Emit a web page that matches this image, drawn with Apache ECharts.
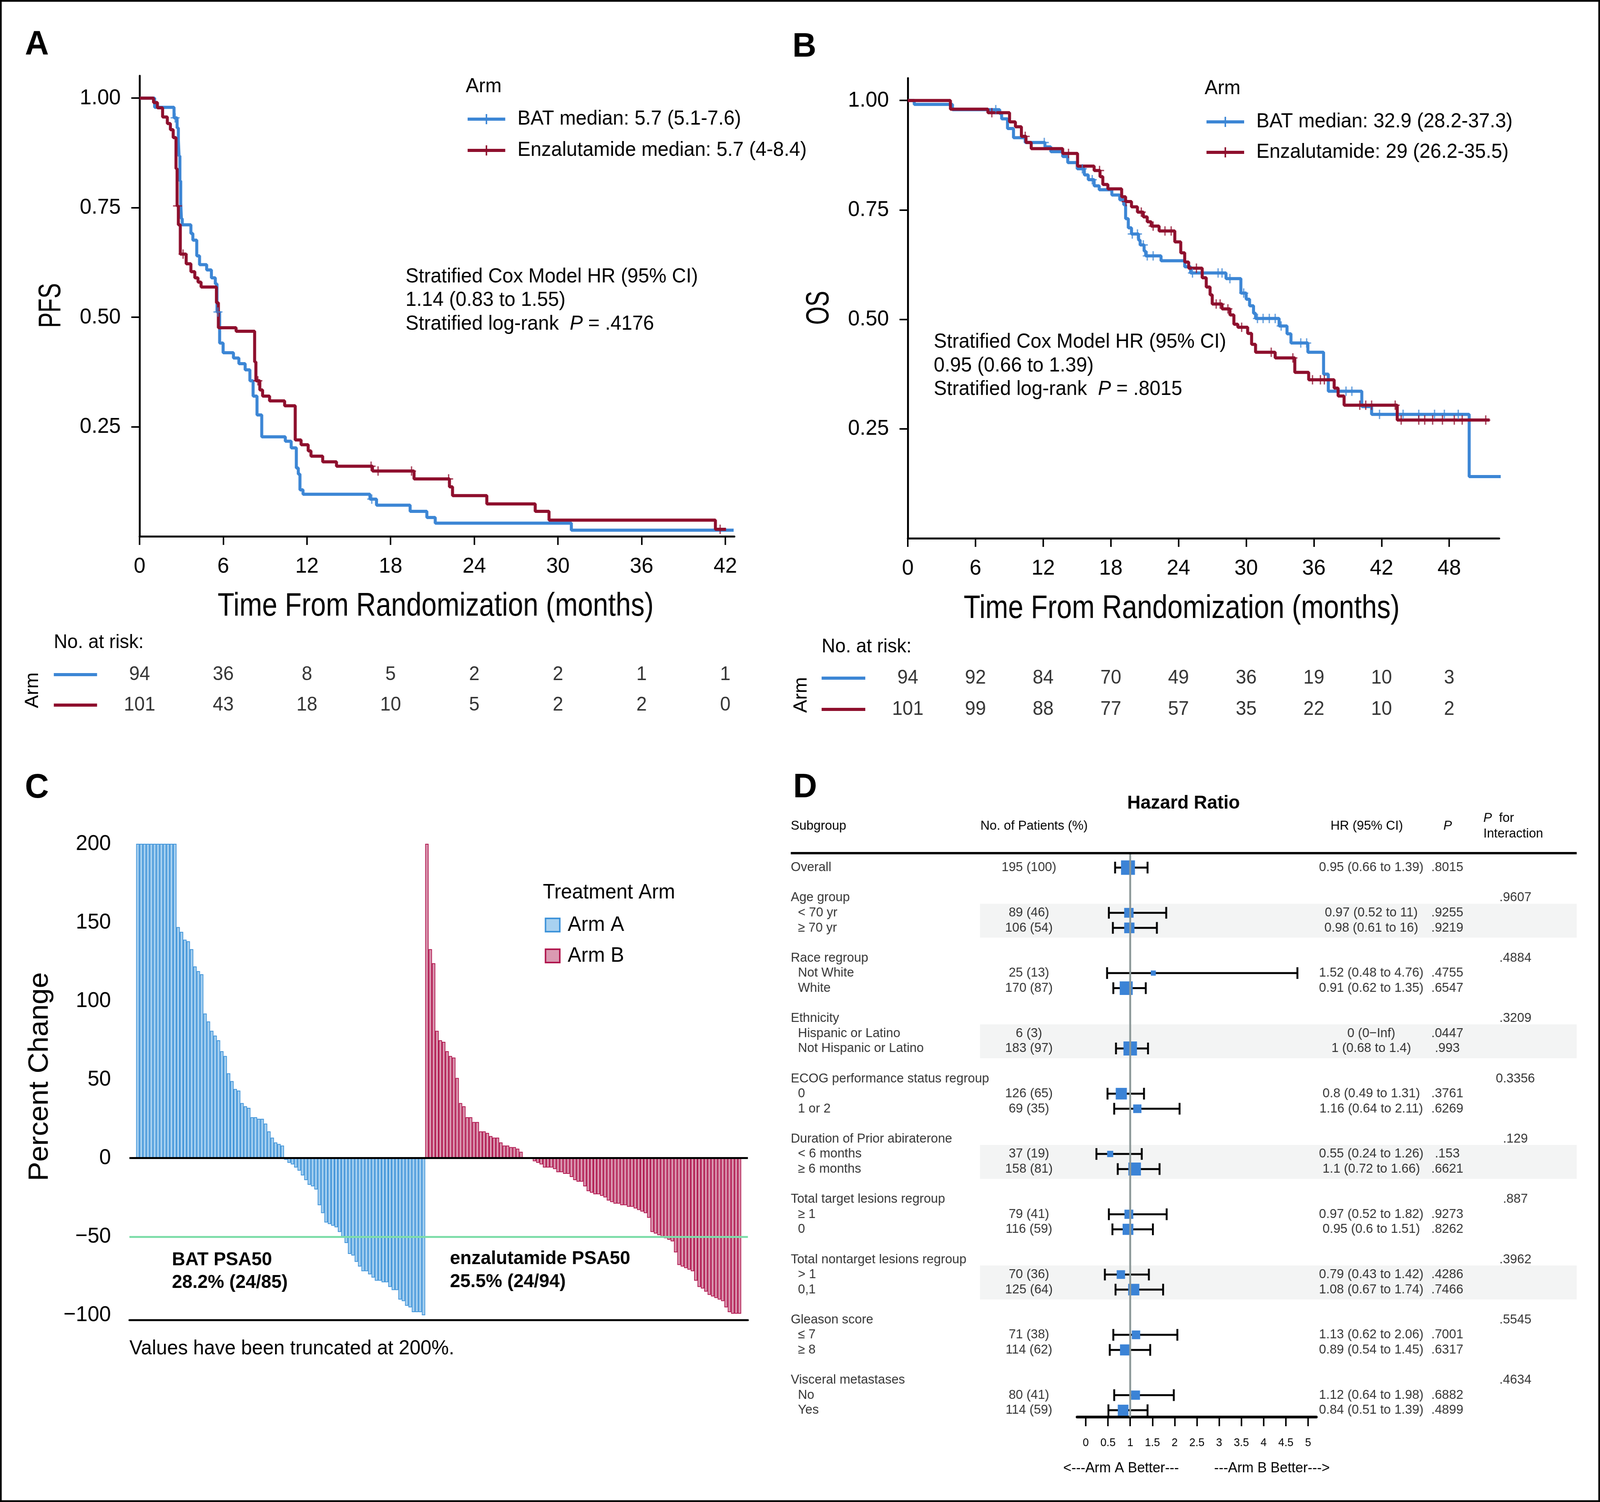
<!DOCTYPE html>
<html><head><meta charset="utf-8">
<script src="https://cdn.jsdelivr.net/npm/echarts@6/dist/echarts.min.js"></script>
<style>html,body{margin:0;padding:0;background:#fff;overflow:hidden}#c{width:4253px;height:3845px;transform-origin:0 0}</style>
</head><body><div id="c"></div><script>
// ---------------- DATA ----------------
const pfsTicks=[0,6,12,18,24,30,36,42];
const osTicks=[0,6,12,18,24,30,36,42,48];
const survTicks=[0.25,0.5,0.75,1.0];
const pfsRiskBAT=[94,36,8,5,2,2,1,1];
const pfsRiskEnz=[101,43,18,10,5,2,2,0];
const osRiskBAT=[94,92,84,70,49,36,19,10,3];
const osRiskEnz=[101,99,88,77,57,35,22,10,2];
const nameBATpfs='BAT median: 5.7 (5.1-7.6)';
const nameEnzpfs='Enzalutamide median: 5.7 (4-8.4)';
const nameBATos='BAT median: 32.9 (28.2-37.3)';
const nameEnzos='Enzalutamide: 29 (26.2-35.5)';
const pfsBAT=[[0,1],[1.08,0.979],[2.47,0.955],[2.69,0.932],[2.78,0.903],[2.83,0.868],[2.89,0.811],[2.95,0.761],[3.0,0.725],[3.06,0.711],[3.68,0.691],[3.82,0.676],[4.10,0.640],[4.30,0.620],[4.81,0.608],[5.15,0.590],[5.43,0.576],[5.55,0.512],[5.74,0.441],[5.99,0.419],[6.73,0.407],[7.12,0.394],[7.57,0.380],[7.91,0.355],[8.14,0.320],[8.42,0.277],[8.76,0.227],[10.45,0.217],[10.87,0.202],[11.24,0.156],[11.38,0.142],[11.50,0.106],[11.72,0.096],[16.52,0.085],[16.99,0.071],[19.4,0.057],[20.6,0.043],[21.2,0.030],[30.96,0.014],[42.6,0.014]];
const pfsBATcens=[2.55,5.62,16.65];
const pfsEnz=[[0,1],[1.0,0.990],[1.28,0.978],[1.65,0.957],[1.99,0.942],[2.21,0.928],[2.41,0.910],[2.61,0.839],[2.69,0.754],[2.78,0.711],[2.92,0.644],[3.34,0.622],[3.68,0.604],[3.96,0.590],[4.19,0.580],[4.41,0.569],[5.51,0.533],[5.65,0.476],[6.92,0.468],[8.25,0.398],[8.34,0.355],[8.62,0.334],[8.82,0.320],[9.32,0.309],[10.40,0.298],[11.16,0.220],[11.58,0.209],[12.09,0.195],[12.29,0.183],[13.13,0.170],[14.12,0.160],[16.7,0.149],[19.68,0.131],[22.22,0.113],[22.44,0.093],[24.9,0.074],[28.37,0.057],[29.36,0.037],[41.29,0.016],[42.05,0.016]];
const pfsEnzcens=[2.72,3.12,8.48,16.6,17.1,19.5,22.16,41.63];
const osBAT=[[0,1],[0.57,0.991],[3.96,0.979],[8.15,0.970],[8.32,0.958],[8.84,0.936],[9.37,0.915],[10.41,0.904],[12.16,0.894],[12.68,0.883],[13.73,0.872],[14.18,0.858],[15.02,0.844],[15.65,0.830],[16.0,0.819],[16.52,0.805],[16.97,0.796],[18.09,0.784],[18.79,0.773],[19.14,0.762],[19.31,0.730],[19.55,0.709],[19.83,0.695],[20.46,0.681],[20.60,0.670],[20.95,0.656],[21.09,0.645],[22.45,0.634],[24.55,0.620],[25.07,0.606],[28.21,0.593],[29.53,0.560],[30.0,0.546],[30.3,0.531],[30.65,0.514],[30.83,0.502],[32.92,0.485],[33.62,0.467],[33.97,0.446],[35.47,0.425],[36.86,0.375],[37.28,0.336],[40.25,0.301],[41.12,0.283],[49.77,0.141],[52.98,0.141]];
const osBATcens=[7.8,12.1,15.47,16.35,19.9,20.36,20.88,21.23,21.75,25.24,27.51,27.86,28.56,29.78,31.0,31.5,32.05,32.57,33.1,34.84,35.36,38.85,39.37,41.82,43.91,45.3,46.7,47.57,48.8,52.98];
const osEnz=[[0,1],[3.78,0.980],[7.1,0.972],[9.02,0.951],[9.54,0.940],[10.07,0.918],[10.48,0.904],[10.94,0.890],[13.73,0.879],[15.05,0.850],[16.52,0.840],[17.04,0.826],[17.29,0.808],[17.74,0.798],[18.96,0.780],[19.31,0.769],[19.83,0.757],[20.36,0.745],[20.88,0.734],[21.23,0.723],[21.58,0.713],[22.28,0.702],[23.67,0.677],[24.2,0.652],[24.55,0.631],[24.9,0.617],[26.1,0.595],[26.46,0.574],[26.8,0.556],[26.99,0.535],[27.86,0.524],[28.56,0.510],[28.91,0.489],[29.26,0.482],[30.13,0.468],[30.48,0.443],[30.83,0.425],[32.57,0.412],[34.31,0.379],[35.54,0.362],[37.8,0.343],[38.15,0.325],[38.68,0.304],[43.39,0.270],[51.58,0.270]];
const osEnzcens=[7.45,10.41,14.25,17.0,19.35,20.7,21.75,22.8,23.35,25.59,27.34,27.69,28.38,29.6,32.22,34.14,35.88,36.58,36.93,40.07,40.6,41.12,43.21,43.74,45.3,45.83,46.53,47.4,48.45,49.15,51.24];
const psaTicks=[-100,-50,0,50,100,150,200];
const armA=[200,200,200,200,200,200,200,200,200,200,200,200,147,144,139,138,133,122,119,117,92,87,81,78,75,68,65,54,49,44,43,35,33,32,26,26,25,25,22,17,13,10,9,8,-1,-3,-4,-6,-8,-11,-14,-17,-18,-20,-30,-35,-41,-42,-43,-44,-47,-50,-54,-61,-62,-66,-69,-72,-72,-74,-76,-78,-78,-79,-79,-82,-84,-84,-90,-91,-94,-95,-98,-98,-98,-100];
const armB=[200,133,124,81,75,74,68,65,64,51,35,33,26,26,23,23,17,17,16,14,13,13,10,8,8,7,7,6,4,0,0,0,-2,-3,-4,-6,-6,-6,-7,-9,-9,-10,-10,-12,-14,-15,-15,-18,-21,-22,-23,-23,-24,-25,-27,-28,-29,-29,-30,-30,-31,-31,-32,-33,-34,-35,-38,-47,-48,-49,-50,-51,-52,-53,-60,-68,-69,-70,-71,-72,-78,-82,-83,-85,-87,-88,-89,-90,-91,-95,-98,-99,-99,-99];
const hrTicks=[0,0.5,1,1.5,2,2.5,3,3.5,4,4.5,5];
const overall={label:'Overall',n:195,pct:100,hr:0.95,lo:0.66,hi:1.39,text:'0.95 (0.66 to 1.39)',p:'.8015'};
const groupNames=['Age group','Race regroup','Ethnicity','ECOG performance status regroup','Duration of Prior abiraterone','Total target lesions regroup','Total nontarget lesions regroup','Gleason score','Visceral metastases'];
const groupPInt=['.9607','.4884','.3209','0.3356','.129','.887','.3962','.5545','.4634'];
const itemLabels=[['< 70 yr','≥ 70 yr'],['Not White','White'],['Hispanic or Latino','Not Hispanic or Latino'],['0','1 or 2'],['< 6 months','≥ 6 months'],['≥ 1','0'],['> 1','0,1'],['≤ 7','≥ 8'],['No','Yes']];
const itemN=[[89,106],[25,170],[6,183],[126,69],[37,158],[79,116],[70,125],[71,114],[80,114]];
const itemPct=[[46,54],[13,87],[3,97],[65,35],[19,81],[41,59],[36,64],[38,62],[41,59]];
const itemHR=[[0.97,0.98],[1.52,0.91],[null,1],[0.8,1.16],[0.55,1.1],[0.97,0.95],[0.79,1.08],[1.13,0.89],[1.12,0.84]];
const itemLo=[[0.52,0.61],[0.48,0.62],[null,0.68],[0.49,0.64],[0.24,0.72],[0.52,0.6],[0.43,0.67],[0.62,0.54],[0.64,0.51]];
const itemHi=[[1.81,1.6],[4.76,1.35],[null,1.4],[1.31,2.11],[1.26,1.66],[1.82,1.51],[1.42,1.74],[2.06,1.45],[1.98,1.39]];
const itemHRText=[['0.97 (0.52 to 11)','0.98 (0.61 to 16)'],['1.52 (0.48 to 4.76)','0.91 (0.62 to 1.35)'],['0 (0\u2212Inf)','1 (0.68 to 1.4)'],['0.8 (0.49 to 1.31)','1.16 (0.64 to 2.11)'],['0.55 (0.24 to 1.26)','1.1 (0.72 to 1.66)'],['0.97 (0.52 to 1.82)','0.95 (0.6 to 1.51)'],['0.79 (0.43 to 1.42)','1.08 (0.67 to 1.74)'],['1.13 (0.62 to 2.06)','0.89 (0.54 to 1.45)'],['1.12 (0.64 to 1.98)','0.84 (0.51 to 1.39)']];
const itemP=[['.9255','.9219'],['.4755','.6547'],['.0447','.993'],['.3761','.6269'],['.153','.6621'],['.9273','.8262'],['.4286','.7466'],['.7001','.6317'],['.6882','.4899']];
const shadedGroups=[0,2,4,6];

// ---------------- STYLE / BUILD ----------------
const W=4253,H=3845;
const dom=document.getElementById('c');
const vw=window.innerWidth, vh=window.innerHeight;
if(vw>0&&vh>0&&(vw!==W||vh!==H)){dom.style.transform='scale('+(vw/W)+','+(vh/H)+')';}
const F="'Liberation Sans', Arial, Helvetica, sans-serif";
const BLUE='#3C86D5', RED='#8E0F2D';
const cross='path://M-1,-0.14L1,-0.14L1,0.14L-1,0.14ZM-0.14,-1L0.14,-1L0.14,1L-0.14,1Z';
const legIcon='path://M0,9L100,9L100,17L0,17ZM48,0L52,0L52,26L48,26Z';
function stepAt(c,t){let v=c[0][1];for(const p of c){if(p[0]<=t)v=p[1];else break;}return v;}

const chart=echarts.init(dom);
const axBlack={lineStyle:{color:'#000',width:5}};
function kmX(gi,max,ticks){return {type:'value',gridIndex:gi,min:0,max:max,axisLine:Object.assign({onZero:false},axBlack),
  axisTick:{length:22,lineStyle:{color:'#000',width:4},customValues:ticks},
  axisLabel:{customValues:ticks,fontSize:56,color:'#000',fontFamily:F,margin:50},splitLine:{show:false}};}
function kmY(gi){return {type:'value',gridIndex:gi,min:0,max:1.051,axisLine:Object.assign({onZero:false},axBlack),
  axisTick:{length:22,lineStyle:{color:'#000',width:4},customValues:survTicks},
  axisLabel:{customValues:survTicks,fontSize:56,color:'#000',fontFamily:F,margin:50,formatter:v=>v.toFixed(2)},splitLine:{show:false}};}
function hidX(gi,min,max){return {type:'value',gridIndex:gi,min:min,max:max,show:false,splitLine:{show:false}};}

const grids=[
 {left:371,top:194,width:1581,height:1179},   //0 PFS
 {left:371,top:1688,width:1581,height:156},   //1 PFS risk
 {left:2413,top:200,width:1572,height:1178},  //2 OS
 {left:2413,top:1696,width:1572,height:160},  //3 OS risk
 {left:344,top:2138,width:1644,height:1241},  //4 waterfall
 {left:2863,top:2028,width:636,height:1599},  //5 forest
 {left:2080,top:2028,width:2140,height:1599}  //6 forest table
];
const nCat=2+armA.length+armB.length+2;
const cats=Array.from({length:nCat},(_,i)=>String(i));
const sA=cats.map((_,i)=>(i>=2&&i<2+armA.length)?armA[i-2]:null);
const sB0=2+armA.length;
const sB=cats.map((_,i)=>(i>=sB0&&i<sB0+armB.length)?armB[i-sB0]:null);

const xAxes=[
 kmX(0,42.65,pfsTicks), hidX(1,0,42.65), kmX(2,52.43,osTicks), hidX(3,0,52.43),
 {type:'category',gridIndex:4,data:cats,boundaryGap:true,axisLine:Object.assign({onZero:false},axBlack),axisTick:{show:false},axisLabel:{show:false}},
 {type:'value',gridIndex:5,min:-0.1946,max:5.186,axisLine:{onZero:false,lineStyle:{color:'#000',width:7}},
   axisTick:{length:24,lineStyle:{color:'#000',width:4},customValues:hrTicks},
   axisLabel:{customValues:hrTicks,fontSize:29,color:'#000',fontFamily:F,margin:52,formatter:v=>String(v)},splitLine:{show:false}},
 hidX(6,0,2140)
];
const yAxes=[
 kmY(0), {type:'category',gridIndex:1,data:['b','e'],inverse:true,show:false},
 kmY(2), {type:'category',gridIndex:3,data:['b','e'],inverse:true,show:false},
 {type:'value',gridIndex:4,min:-103,max:205.5,axisLine:Object.assign({onZero:false},axBlack),
   axisTick:{length:22,lineStyle:{color:'#000',width:4},customValues:psaTicks},
   axisLabel:{customValues:psaTicks,fontSize:56,color:'#000',fontFamily:F,margin:49,formatter:v=>v<0?'\u2212'+Math.abs(v):String(v)},splitLine:{show:false}},
 {type:'value',gridIndex:5,min:-5,max:36.44,inverse:true,show:false,splitLine:{show:false}},
 {type:'value',gridIndex:6,min:-5,max:36.44,inverse:true,show:false,splitLine:{show:false}}
];

const series=[];
function km(xi,curve,cens,name,color){
  series.push({type:'line',name:name,xAxisIndex:xi,yAxisIndex:xi,data:curve,step:'end',symbol:'none',color:color,lineStyle:{color:color,width:8},z:3,silent:true});
  series.push({type:'scatter',name:name,xAxisIndex:xi,yAxisIndex:xi,data:cens.map(t=>[t,stepAt(curve,t)]),symbol:cross,symbolSize:24,color:color,itemStyle:{color:color},z:4,silent:true});
}
km(0,pfsBAT,pfsBATcens,nameBATpfs,BLUE);
km(0,pfsEnz,pfsEnzcens,nameEnzpfs,RED);
km(2,osBAT,osBATcens,nameBATos,BLUE);
km(2,osEnz,osEnzcens,nameEnzos,RED);
function risk(xi,ticks,vals,cat){
  series.push({type:'scatter',xAxisIndex:xi,yAxisIndex:xi,symbolSize:0,silent:true,data:ticks.map((t,i)=>[t,cat,vals[i]]),
   label:{show:true,position:'inside',formatter:p=>String(p.data[2]),fontSize:50,color:'#000',fontFamily:F}});
}
risk(1,pfsTicks,pfsRiskBAT,'b'); risk(1,pfsTicks,pfsRiskEnz,'e');
risk(3,osTicks,osRiskBAT,'b'); risk(3,osTicks,osRiskEnz,'e');

series.push({type:'bar',name:'Arm A',xAxisIndex:4,yAxisIndex:4,data:sA,barWidth:'100%',barGap:'-100%',color:'#A8D1F0',
  itemStyle:{color:'#A8D1F0',borderColor:'#3E93D9',borderWidth:2},silent:true,z:2});
series.push({type:'bar',name:'Arm B',xAxisIndex:4,yAxisIndex:4,data:sB,barWidth:'100%',barGap:'-100%',color:'#DA9AB2',
  itemStyle:{color:'#DA9AB2',borderColor:'#B0164E',borderWidth:2},silent:true,z:2,
  markLine:{silent:true,symbol:'none',label:{show:false},data:[
    {yAxis:0,lineStyle:{color:'#000',width:5,type:'solid'}},
    {yAxis:-50,lineStyle:{color:'#7EDDA9',width:5,type:'solid'}}]}});

// forest
const lblD=[[22,0,overall.label]], nD=[[655,0,overall.n+' ('+overall.pct+')']], hrD=[[1565,0,overall.text]], pD=[[1767,0,overall.p]], piD=[];
const whisk=[[0,overall.lo,overall.hi]], boxes=[[overall.hr,0,overall.n]], bands=[];
groupNames.forEach((g,gi)=>{
  const hr=2+4*gi;
  lblD.push([22,hr,g]); piD.push([1948,hr,groupPInt[gi]]);
  if(shadedGroups.includes(gi)) bands.push([{xAxis:525,yAxis:hr+0.4},{xAxis:2111,yAxis:hr+2.65}]);
  for(let k=0;k<2;k++){
    const r=hr+1+k;
    lblD.push([41,r,itemLabels[gi][k]]);
    nD.push([655,r,itemN[gi][k]+' ('+itemPct[gi][k]+')']);
    hrD.push([1565,r,itemHRText[gi][k]]);
    pD.push([1767,r,itemP[gi][k]]);
    if(itemHR[gi][k]!==null){whisk.push([r,itemLo[gi][k],itemHi[gi][k]]);boxes.push([itemHR[gi][k],r,itemN[gi][k]]);}
  }
});
function txtSeries(data,pos,extra){
  series.push(Object.assign({type:'scatter',xAxisIndex:6,yAxisIndex:6,symbolSize:0,silent:true,data:data,z:2,
   label:{show:true,position:pos,distance:0,formatter:p=>p.data[2],fontSize:34,color:'#000',fontFamily:F}},extra||{}));
}
txtSeries(lblD,'right',{z:1,markArea:{silent:true,itemStyle:{color:'#F3F4F4'},data:bands}});
txtSeries(nD,'inside'); txtSeries(hrD,'inside'); txtSeries(pD,'inside'); txtSeries(piD,'inside');
series.push({type:'custom',xAxisIndex:5,yAxisIndex:5,data:whisk,silent:true,z:3,encode:{x:[1,2],y:0},
  renderItem:(params,api)=>{const r=api.value(0),a=api.coord([api.value(1),r]),b=api.coord([api.value(2),r]),h=15;
   const st={stroke:'#000',lineWidth:5};
   return {type:'group',children:[
     {type:'line',shape:{x1:a[0],y1:a[1],x2:b[0],y2:b[1]},style:st},
     {type:'line',shape:{x1:a[0],y1:a[1]-h,x2:a[0],y2:a[1]+h},style:st},
     {type:'line',shape:{x1:b[0],y1:b[1]-h,x2:b[0],y2:b[1]+h},style:st}]};}});
series.push({type:'scatter',xAxisIndex:5,yAxisIndex:5,data:boxes,symbol:'rect',symbolSize:v=>Math.min(37,2.65*Math.sqrt(v[2])),
  itemStyle:{color:'#3B83D6',opacity:1},silent:true,z:4});
series.push({type:'line',xAxisIndex:5,yAxisIndex:5,data:[[1,-0.92],[1,36.44]],symbol:'none',lineStyle:{color:'#8C9898',width:5},silent:true,z:5});

// ---------------- GRAPHIC TEXT ----------------
function T(x,y,text,o){o=o||{};return {type:'text',x:x,y:y,rotation:o.rot||0,scaleX:o.sx||1,silent:true,z:10,style:{text:text,fontSize:o.fs||52,fontFamily:F,
  fontWeight:o.fw||'normal',fill:'#000',align:o.al||'left',verticalAlign:'middle',rich:{i:{fontStyle:'italic',fontSize:o.fs||52,fontFamily:F}}}};}
function L(x1,y1,x2,y2,c,w){return {type:'line',silent:true,z:10,shape:{x1,y1,x2,y2},style:{stroke:c,lineWidth:w}};}
const gr=[
 {type:'rect',silent:true,z:0,shape:{x:2,y:2,width:4249,height:3841},style:{fill:'none',stroke:'#000',lineWidth:5}},
 T(98,115,'A',{fs:88,fw:'bold',al:'center'}), T(2138,121,'B',{fs:88,fw:'bold',al:'center'}),
 T(98,2018,'C',{fs:88,fw:'bold',al:'center'}), T(2140,2017,'D',{fs:88,fw:'bold',al:'center'}),
 T(1238,222,'Arm'), T(3202,227,'Arm'),
 T(1078,709,'Stratified Cox Model HR (95% CI)'), T(1078,769,'1.14 (0.83 to 1.55)'), T(1078,830,'Stratified log-rank  {i|P} = .4176'),
 T(2482,876,'Stratified Cox Model HR (95% CI)'), T(2482,937,'0.95 (0.66 to 1.39)'), T(2482,997,'Stratified log-rank  {i|P} = .8015'),
 T(1158,1553,'Time From Randomization (months)',{fs:84,sx:0.864,al:'center'}),
 T(3141,1559,'Time From Randomization (months)',{fs:84,sx:0.864,al:'center'}),
 T(137,782,'PFS',{fs:84,sx:0.70,al:'center',rot:Math.PI/2}), T(2178,788,'OS',{fs:86,sx:0.70,al:'center',rot:Math.PI/2}),
 T(143,1645,'No. at risk:',{fs:50}), L(143,1727,258,1727,BLUE,8), L(143,1805,258,1805,RED,8), T(87,1767,'Arm',{fs:50,al:'center',rot:Math.PI/2}),
 T(2184,1656,'No. at risk:',{fs:50}), L(2184,1736,2300,1736,BLUE,8), L(2184,1816,2300,1816,RED,8), T(2130,1779,'Arm',{fs:50,al:'center',rot:Math.PI/2}),
 T(107,2756,'Percent Change',{fs:74,al:'center',rot:Math.PI/2}),
 T(1443,2285,'Treatment Arm',{fs:53}),
 T(457,3225,'BAT PSA50',{fs:49,fw:'bold'}), T(457,3283,'28.2% (24/85)',{fs:49,fw:'bold'}),
 T(1196,3222,'enzalutamide PSA50',{fs:49,fw:'bold'}), T(1196,3281,'25.5% (24/94)',{fs:49,fw:'bold'}),
 T(344,3453,'Values have been truncated at 200%.',{fs:52}),
 T(3146,2056,'Hazard Ratio',{fs:49,fw:'bold',al:'center'}),
 T(2102,2115,'Subgroup',{fs:34}), T(2606,2115,'No. of Patients (%)',{fs:34}), T(3633,2115,'HR (95% CI)',{fs:34,al:'center'}),
 T(3848,2115,'{i|P}',{fs:34,al:'center'}), T(3943,2095,'{i|P}  for',{fs:34}), T(3943,2135,'Interaction',{fs:34}),
 L(2102,2184,4191,2184,'#000',6),
 T(2980,3759,'<---Arm A Better---',{fs:37,al:'center'}), T(3381,3759,'---Arm B Better--->',{fs:37,al:'center'})
];

chart.setOption({
 animation:false, backgroundColor:'#fff',
 grid:grids, xAxis:xAxes, yAxis:yAxes, series:series, graphic:gr,
 legend:[
  {left:1238,top:274,orient:'vertical',itemWidth:117,itemHeight:26,itemGap:28,selectedMode:false,
   data:[{name:nameBATpfs,icon:legIcon},{name:nameEnzpfs,icon:legIcon}],textStyle:{fontSize:52,fontFamily:F,color:'#000',padding:[0,0,0,19]}},
  {left:3202,top:281,orient:'vertical',itemWidth:117,itemHeight:26,itemGap:26,selectedMode:false,
   data:[{name:nameBATos,icon:legIcon},{name:nameEnzos,icon:legIcon}],textStyle:{fontSize:52,fontFamily:F,color:'#000',padding:[0,0,0,19]}},
  {left:1443,top:2336,orient:'vertical',itemWidth:38,itemHeight:34,itemGap:25,selectedMode:false,
   data:[{name:'Arm A',icon:'rect'},{name:'Arm B',icon:'rect'}],itemStyle:{borderWidth:4},
   textStyle:{fontSize:54,fontFamily:F,color:'#000',padding:[0,0,0,16]}}
 ]
});
</script></body></html>
